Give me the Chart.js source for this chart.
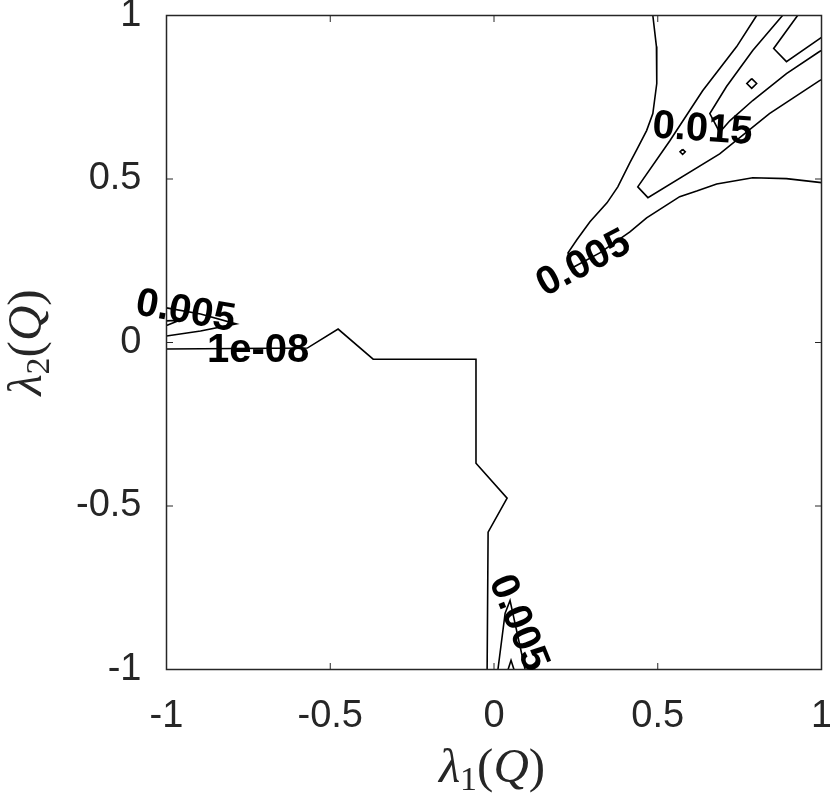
<!DOCTYPE html>
<html>
<head>
<meta charset="utf-8">
<script src="https://cdn.jsdelivr.net/npm/chart.js@4.4.1/dist/chart.umd.min.js"></script>
<style>
  html, body { margin: 0; padding: 0; background: #fff; }
</style>
</head>
<body>
<canvas id="myChart" width="830" height="797"></canvas>
<script>
// axis ticks
var tickValues = [-1, -0.5, 0, 0.5, 1];

// contour level 1e-08 (one open line)
var c1e8X = [-1, -0.570, -0.476, -0.369, -0.055, -0.055, 0.040, -0.018, -0.021];
var c1e8Y = [-0.020, -0.017, 0.041, -0.051, -0.051, -0.369, -0.476, -0.580, -1];

// contour 0.005, left edge wedge
var c005aX = [-1, -0.896, -0.787, -0.896, -1];
var c005aY = [0.106, 0.087, 0.057, 0.035, 0.020];
var c005bX = [-1, -0.960, -1];
var c005bY = [0.066, 0.068, 0.052];

// contour 0.005, top right
var c005cX = [0.485, 0.496, 0.497, 0.485, 0.466, 0.436, 0.415, 0.378, 0.345, 0.293, 0.253, 0.226, 0.238,
              0.323, 0.415, 0.466, 0.567, 0.619, 0.680, 0.790, 0.893, 1.0];
var c005cY = [1.0, 0.905, 0.792, 0.700, 0.648, 0.590, 0.550, 0.476, 0.427, 0.369, 0.314, 0.274, 0.228,
              0.274, 0.338, 0.381, 0.446, 0.463, 0.485, 0.504, 0.501, 0.489];

// contour 0.005, bottom
var c005dX = [0.012, 0.034, 0.049, 0.095];
var c005dY = [-1, -0.828, -0.789, -1];
var c005eX = [0.043, 0.052, 0.061];
var c005eY = [-1, -0.972, -1];

// contour 0.01
var c01X = [0.802, 0.741, 0.637, 0.537, 0.439, 0.470, 0.689, 0.841, 0.994, 1.0];
var c01Y = [1.0, 0.905, 0.770, 0.617, 0.476, 0.443, 0.577, 0.700, 0.801, 0.804];

// contour 0.015
var c015X = [0.881, 0.790, 0.710, 0.659, 0.689, 0.720, 0.790, 0.893, 0.994, 1.0];
var c015Y = [1.0, 0.893, 0.783, 0.700, 0.643, 0.678, 0.740, 0.822, 0.890, 0.893];
var c015bX = [0.787, 0.802, 0.787, 0.772, 0.787];
var c015bY = [0.807, 0.792, 0.777, 0.792, 0.807];
var c015cX = [0.576, 0.584, 0.576, 0.568, 0.576];
var c015cY = [0.591, 0.583, 0.575, 0.583, 0.591];

// contour 0.02
var c02X = [0.927, 0.854, 0.893, 1.0];
var c02Y = [1.0, 0.899, 0.859, 0.933];

// contour labels
var labelText = ['1e-08', '0.005', '0.005', '0.015', '0.005'];
var labelX = [-0.720, -0.941, 0.271, 0.637, 0.079];
var labelY = [-0.020, 0.100, 0.246, 0.657, -0.856];
var labelAngle = [0, 10, -28, 4, 68];

var lines = [
  [c1e8X, c1e8Y], [c005aX, c005aY], [c005bX, c005bY], [c005cX, c005cY],
  [c005dX, c005dY], [c005eX, c005eY], [c01X, c01Y], [c015X, c015Y],
  [c015bX, c015bY], [c015cX, c015cY], [c02X, c02Y]
];

var datasets = lines.map(function(l) {
  return {
    data: l[0].map(function(x, i) { return { x: x, y: l[1][i] }; }),
    showLine: true,
    borderColor: '#000',
    borderWidth: 1.6,
    pointRadius: 0,
    fill: false,
    tension: 0
  };
});

var axisColor = '#262626';

// box, inside ticks, contour labels and axis titles
var decor = {
  id: 'decor',
  afterDatasetsDraw: function(chart) {
    var ctx = chart.ctx;
    var a = chart.chartArea;
    var xs = chart.scales.x, ys = chart.scales.y;

    ctx.save();
    ctx.strokeStyle = axisColor;
    ctx.lineWidth = 1.5;
    ctx.strokeRect(a.left, a.top, a.right - a.left, a.bottom - a.top);
    ctx.lineWidth = 1;
    var tl = 6.5;
    tickValues.forEach(function(v) {
      var px = xs.getPixelForValue(v);
      var py = ys.getPixelForValue(v);
      ctx.beginPath();
      ctx.moveTo(px, a.bottom); ctx.lineTo(px, a.bottom - tl);
      ctx.moveTo(px, a.top); ctx.lineTo(px, a.top + tl);
      ctx.moveTo(a.left, py); ctx.lineTo(a.left + tl, py);
      ctx.moveTo(a.right, py); ctx.lineTo(a.right - tl, py);
      ctx.stroke();
    });
    ctx.restore();

    // contour labels
    ctx.save();
    ctx.fillStyle = '#000';
    ctx.font = 'bold 40px "Liberation Sans", Arial, sans-serif';
    ctx.textAlign = 'center';
    ctx.textBaseline = 'middle';
    labelText.forEach(function(t, i) {
      ctx.save();
      ctx.translate(xs.getPixelForValue(labelX[i]), ys.getPixelForValue(labelY[i]));
      ctx.rotate(labelAngle[i] * Math.PI / 180);
      ctx.fillText(t, 0, 2);
      ctx.restore();
    });
    ctx.restore();

    // axis titles
    drawMath(ctx, '1', (a.left + a.right) / 2 - 2, 782, 0);
    drawMath(ctx, '2', 41, (a.top + a.bottom) / 2, -Math.PI / 2);
  }
};

function drawMath(ctx, sub, cx, cy, rot) {
  var big = 49, small = 34;
  var parts = [
    { t: '\u03bb', f: 'italic ' + big + 'px "Liberation Serif", serif', dy: 0 },
    { t: sub, f: small + 'px "Liberation Serif", serif', dy: 8 },
    { t: '(', f: big + 'px "Liberation Serif", serif', dy: 0 },
    { t: 'Q', f: 'italic ' + big + 'px "Liberation Serif", serif', dy: 0 },
    { t: ')', f: big + 'px "Liberation Serif", serif', dy: 0 }
  ];
  ctx.save();
  ctx.translate(cx, cy);
  ctx.rotate(rot);
  ctx.fillStyle = axisColor;
  ctx.textBaseline = 'alphabetic';
  ctx.textAlign = 'left';
  var total = 0;
  parts.forEach(function(p) { ctx.font = p.f; p.w = ctx.measureText(p.t).width; total += p.w; });
  var x = -total / 2;
  parts.forEach(function(p) {
    ctx.font = p.f;
    ctx.fillText(p.t, x, p.dy);
    x += p.w;
  });
  ctx.restore();
}

function noPad(s) {
  s.paddingLeft = 0; s.paddingRight = 0; s.paddingTop = 0; s.paddingBottom = 0;
}

var ctx = document.getElementById('myChart').getContext('2d');
var myChart = new Chart(ctx, {
  type: 'scatter',
  data: { datasets: datasets },
  options: {
    responsive: false,
    animation: false,
    devicePixelRatio: 1,
    layout: { padding: { left: 0, right: 8.5, top: 15.5, bottom: 0 } },
    plugins: {
      legend: { display: false },
      tooltip: { enabled: false }
    },
    scales: {
      x: {
        type: 'linear',
        min: -1,
        max: 1,
        grid: { display: false, drawTicks: false },
        border: { display: false },
        ticks: {
          stepSize: 0.5,
          padding: 24,
          color: axisColor,
          font: { family: '"Liberation Sans", Arial, sans-serif', size: 38 },
          callback: function(v) { return String(v); }
        },
        afterFit: function(s) { s.height = 127.5; noPad(s); }
      },
      y: {
        type: 'linear',
        min: -1,
        max: 1,
        grid: { display: false, drawTicks: false },
        border: { display: false },
        ticks: {
          stepSize: 0.5,
          padding: 25,
          color: axisColor,
          font: { family: '"Liberation Sans", Arial, sans-serif', size: 38 },
          callback: function(v) { return String(v); }
        },
        afterFit: function(s) { s.width = 166.5; noPad(s); }
      }
    }
  },
  plugins: [decor]
});
</script>
</body>
</html>
